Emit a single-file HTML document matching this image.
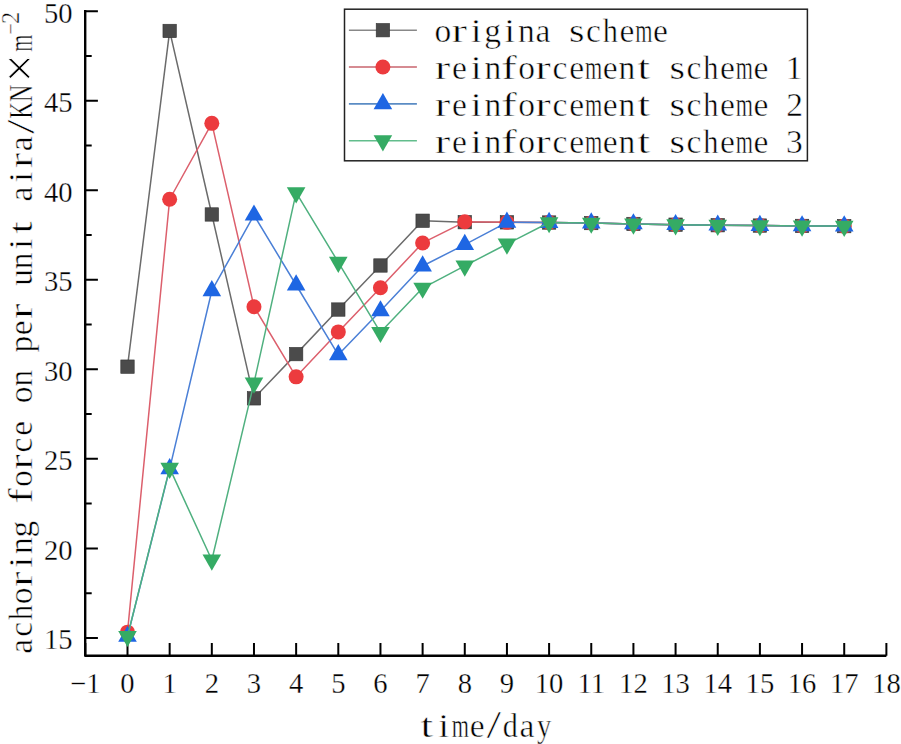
<!DOCTYPE html>
<html><head><meta charset="utf-8"><style>
html,body{margin:0;padding:0;background:#fff;}
svg{display:block;}
text{stroke:#fff;stroke-width:0.5px;}
.tl text{stroke-width:0.3px;}

</style></head><body>
<svg width="901" height="744" viewBox="0 0 901 744">
<rect width="901" height="744" fill="#fff"/>
<path d="M85.2 10.1 L85.2 655.7 L886.38 655.7" fill="none" stroke="#000" stroke-width="2.4" stroke-linejoin="round"/>
<path d="M85.34 655.7 V642.9 M127.50 655.7 V642.9 M169.66 655.7 V642.9 M211.82 655.7 V642.9 M253.98 655.7 V642.9 M296.14 655.7 V642.9 M338.30 655.7 V642.9 M380.46 655.7 V642.9 M422.62 655.7 V642.9 M464.78 655.7 V642.9 M506.94 655.7 V642.9 M549.10 655.7 V642.9 M591.26 655.7 V642.9 M633.42 655.7 V642.9 M675.58 655.7 V642.9 M717.74 655.7 V642.9 M759.90 655.7 V642.9 M802.06 655.7 V642.9 M844.22 655.7 V642.9 M886.38 655.7 V642.9 M85.2 637.90 H97.9 M85.2 593.14 H91.7 M85.2 548.38 H97.9 M85.2 503.62 H91.7 M85.2 458.86 H97.9 M85.2 414.10 H91.7 M85.2 369.34 H97.9 M85.2 324.58 H91.7 M85.2 279.82 H97.9 M85.2 235.06 H91.7 M85.2 190.30 H97.9 M85.2 145.54 H91.7 M85.2 100.78 H97.9 M85.2 56.02 H91.7 M85.2 11.26 H97.9" stroke="#000" stroke-width="2" fill="none"/>
<g class="tl" text-anchor="middle" font-family='"Liberation Serif", serif' font-size="28.6" fill="#000"><text x="85.34" y="692.5" text-anchor="middle">−1</text>
<text x="127.50" y="692.5" text-anchor="middle">0</text>
<text x="169.66" y="692.5" text-anchor="middle">1</text>
<text x="211.82" y="692.5" text-anchor="middle">2</text>
<text x="253.98" y="692.5" text-anchor="middle">3</text>
<text x="296.14" y="692.5" text-anchor="middle">4</text>
<text x="338.30" y="692.5" text-anchor="middle">5</text>
<text x="380.46" y="692.5" text-anchor="middle">6</text>
<text x="422.62" y="692.5" text-anchor="middle">7</text>
<text x="464.78" y="692.5" text-anchor="middle">8</text>
<text x="506.94" y="692.5" text-anchor="middle">9</text>
<text x="549.10" y="692.5" text-anchor="middle">10</text>
<text x="591.26" y="692.5" text-anchor="middle">11</text>
<text x="633.42" y="692.5" text-anchor="middle">12</text>
<text x="675.58" y="692.5" text-anchor="middle">13</text>
<text x="717.74" y="692.5" text-anchor="middle">14</text>
<text x="759.90" y="692.5" text-anchor="middle">15</text>
<text x="802.06" y="692.5" text-anchor="middle">16</text>
<text x="844.22" y="692.5" text-anchor="middle">17</text>
<text x="886.38" y="692.5" text-anchor="middle">18</text>
<text x="72.6" y="649.40" text-anchor="end">15</text>
<text x="72.6" y="559.88" text-anchor="end">20</text>
<text x="72.6" y="470.36" text-anchor="end">25</text>
<text x="72.6" y="380.84" text-anchor="end">30</text>
<text x="72.6" y="291.32" text-anchor="end">35</text>
<text x="72.6" y="201.80" text-anchor="end">40</text>
<text x="72.6" y="112.28" text-anchor="end">45</text>
<text x="72.6" y="22.76" text-anchor="end">50</text></g>
<polyline points="127.50,366.65 169.66,30.95 211.82,214.47 253.98,398.34 296.14,354.12 338.30,309.54 380.46,265.50 422.62,220.74 464.78,222.17 506.94,222.35 549.10,222.53 591.26,223.06 633.42,223.96 675.58,224.68 717.74,225.21 759.90,225.57 802.06,225.93 844.22,226.11" fill="none" stroke="#6b6b6b" stroke-width="1.5" stroke-linejoin="round"/>
<rect x="120.80" y="359.95" width="13.4" height="13.4" fill="#4b4b4b" stroke="#333" stroke-width="0.6"/>
<rect x="162.96" y="24.25" width="13.4" height="13.4" fill="#4b4b4b" stroke="#333" stroke-width="0.6"/>
<rect x="205.12" y="207.77" width="13.4" height="13.4" fill="#4b4b4b" stroke="#333" stroke-width="0.6"/>
<rect x="247.28" y="391.64" width="13.4" height="13.4" fill="#4b4b4b" stroke="#333" stroke-width="0.6"/>
<rect x="289.44" y="347.42" width="13.4" height="13.4" fill="#4b4b4b" stroke="#333" stroke-width="0.6"/>
<rect x="331.60" y="302.84" width="13.4" height="13.4" fill="#4b4b4b" stroke="#333" stroke-width="0.6"/>
<rect x="373.76" y="258.80" width="13.4" height="13.4" fill="#4b4b4b" stroke="#333" stroke-width="0.6"/>
<rect x="415.92" y="214.04" width="13.4" height="13.4" fill="#4b4b4b" stroke="#333" stroke-width="0.6"/>
<rect x="458.08" y="215.47" width="13.4" height="13.4" fill="#4b4b4b" stroke="#333" stroke-width="0.6"/>
<rect x="500.24" y="215.65" width="13.4" height="13.4" fill="#4b4b4b" stroke="#333" stroke-width="0.6"/>
<rect x="542.40" y="215.83" width="13.4" height="13.4" fill="#4b4b4b" stroke="#333" stroke-width="0.6"/>
<rect x="584.56" y="216.36" width="13.4" height="13.4" fill="#4b4b4b" stroke="#333" stroke-width="0.6"/>
<rect x="626.72" y="217.26" width="13.4" height="13.4" fill="#4b4b4b" stroke="#333" stroke-width="0.6"/>
<rect x="668.88" y="217.98" width="13.4" height="13.4" fill="#4b4b4b" stroke="#333" stroke-width="0.6"/>
<rect x="711.04" y="218.51" width="13.4" height="13.4" fill="#4b4b4b" stroke="#333" stroke-width="0.6"/>
<rect x="753.20" y="218.87" width="13.4" height="13.4" fill="#4b4b4b" stroke="#333" stroke-width="0.6"/>
<rect x="795.36" y="219.23" width="13.4" height="13.4" fill="#4b4b4b" stroke="#333" stroke-width="0.6"/>
<rect x="837.52" y="219.41" width="13.4" height="13.4" fill="#4b4b4b" stroke="#333" stroke-width="0.6"/>
<polyline points="127.50,632.17 169.66,199.25 211.82,123.34 253.98,306.68 296.14,376.86 338.30,331.92 380.46,287.70 422.62,242.94 464.78,221.81 506.94,222.35 549.10,222.53 591.26,223.06 633.42,223.96 675.58,224.68 717.74,225.21 759.90,225.57 802.06,225.93 844.22,226.11" fill="none" stroke="#dc5f6c" stroke-width="1.5" stroke-linejoin="round"/>
<circle cx="127.50" cy="632.17" r="7.5" fill="#ec3b3e"/>
<circle cx="169.66" cy="199.25" r="7.5" fill="#ec3b3e"/>
<circle cx="211.82" cy="123.34" r="7.5" fill="#ec3b3e"/>
<circle cx="253.98" cy="306.68" r="7.5" fill="#ec3b3e"/>
<circle cx="296.14" cy="376.86" r="7.5" fill="#ec3b3e"/>
<circle cx="338.30" cy="331.92" r="7.5" fill="#ec3b3e"/>
<circle cx="380.46" cy="287.70" r="7.5" fill="#ec3b3e"/>
<circle cx="422.62" cy="242.94" r="7.5" fill="#ec3b3e"/>
<circle cx="464.78" cy="221.81" r="7.5" fill="#ec3b3e"/>
<circle cx="506.94" cy="222.35" r="7.5" fill="#ec3b3e"/>
<circle cx="549.10" cy="222.53" r="7.5" fill="#ec3b3e"/>
<circle cx="591.26" cy="223.06" r="7.5" fill="#ec3b3e"/>
<circle cx="633.42" cy="223.96" r="7.5" fill="#ec3b3e"/>
<circle cx="675.58" cy="224.68" r="7.5" fill="#ec3b3e"/>
<circle cx="717.74" cy="225.21" r="7.5" fill="#ec3b3e"/>
<circle cx="759.90" cy="225.57" r="7.5" fill="#ec3b3e"/>
<circle cx="802.06" cy="225.93" r="7.5" fill="#ec3b3e"/>
<circle cx="844.22" cy="226.11" r="7.5" fill="#ec3b3e"/>
<polyline points="127.50,636.47 169.66,468.89 211.82,290.74 253.98,215.19 296.14,285.01 338.30,354.84 380.46,310.97 422.62,266.03 464.78,244.55 506.94,222.35 549.10,222.53 591.26,223.06 633.42,223.96 675.58,224.68 717.74,225.21 759.90,225.57 802.06,225.93 844.22,226.11" fill="none" stroke="#4a7fd6" stroke-width="1.5" stroke-linejoin="round"/>
<path d="M127.50 625.67L136.80 641.87L118.20 641.87Z" fill="#1e66e3"/>
<path d="M169.66 458.09L178.96 474.29L160.36 474.29Z" fill="#1e66e3"/>
<path d="M211.82 279.94L221.12 296.14L202.52 296.14Z" fill="#1e66e3"/>
<path d="M253.98 204.39L263.28 220.59L244.68 220.59Z" fill="#1e66e3"/>
<path d="M296.14 274.21L305.44 290.41L286.84 290.41Z" fill="#1e66e3"/>
<path d="M338.30 344.04L347.60 360.24L329.00 360.24Z" fill="#1e66e3"/>
<path d="M380.46 300.17L389.76 316.37L371.16 316.37Z" fill="#1e66e3"/>
<path d="M422.62 255.23L431.92 271.43L413.32 271.43Z" fill="#1e66e3"/>
<path d="M464.78 233.75L474.08 249.95L455.48 249.95Z" fill="#1e66e3"/>
<path d="M506.94 211.55L516.24 227.75L497.64 227.75Z" fill="#1e66e3"/>
<path d="M549.10 211.73L558.40 227.93L539.80 227.93Z" fill="#1e66e3"/>
<path d="M591.26 212.26L600.56 228.46L581.96 228.46Z" fill="#1e66e3"/>
<path d="M633.42 213.16L642.72 229.36L624.12 229.36Z" fill="#1e66e3"/>
<path d="M675.58 213.88L684.88 230.08L666.28 230.08Z" fill="#1e66e3"/>
<path d="M717.74 214.41L727.04 230.61L708.44 230.61Z" fill="#1e66e3"/>
<path d="M759.90 214.77L769.20 230.97L750.60 230.97Z" fill="#1e66e3"/>
<path d="M802.06 215.13L811.36 231.33L792.76 231.33Z" fill="#1e66e3"/>
<path d="M844.22 215.31L853.52 231.51L834.92 231.51Z" fill="#1e66e3"/>
<polyline points="127.50,636.29 169.66,468.17 211.82,560.02 253.98,382.95 296.14,192.63 338.30,262.27 380.46,332.28 422.62,288.06 464.78,265.85 506.94,244.01 549.10,222.53 591.26,223.06 633.42,223.96 675.58,224.68 717.74,225.21 759.90,225.57 802.06,225.93 844.22,226.11" fill="none" stroke="#4fb07f" stroke-width="1.5" stroke-linejoin="round"/>
<path d="M118.20 630.89L136.80 630.89L127.50 647.09Z" fill="#35ab64"/>
<path d="M160.36 462.77L178.96 462.77L169.66 478.97Z" fill="#35ab64"/>
<path d="M202.52 554.62L221.12 554.62L211.82 570.82Z" fill="#35ab64"/>
<path d="M244.68 377.55L263.28 377.55L253.98 393.75Z" fill="#35ab64"/>
<path d="M286.84 187.23L305.44 187.23L296.14 203.43Z" fill="#35ab64"/>
<path d="M329.00 256.87L347.60 256.87L338.30 273.07Z" fill="#35ab64"/>
<path d="M371.16 326.88L389.76 326.88L380.46 343.08Z" fill="#35ab64"/>
<path d="M413.32 282.66L431.92 282.66L422.62 298.86Z" fill="#35ab64"/>
<path d="M455.48 260.45L474.08 260.45L464.78 276.65Z" fill="#35ab64"/>
<path d="M497.64 238.61L516.24 238.61L506.94 254.81Z" fill="#35ab64"/>
<path d="M539.80 217.13L558.40 217.13L549.10 233.33Z" fill="#35ab64"/>
<path d="M581.96 217.66L600.56 217.66L591.26 233.86Z" fill="#35ab64"/>
<path d="M624.12 218.56L642.72 218.56L633.42 234.76Z" fill="#35ab64"/>
<path d="M666.28 219.28L684.88 219.28L675.58 235.48Z" fill="#35ab64"/>
<path d="M708.44 219.81L727.04 219.81L717.74 236.01Z" fill="#35ab64"/>
<path d="M750.60 220.17L769.20 220.17L759.90 236.37Z" fill="#35ab64"/>
<path d="M792.76 220.53L811.36 220.53L802.06 236.73Z" fill="#35ab64"/>
<path d="M834.92 220.71L853.52 220.71L844.22 236.91Z" fill="#35ab64"/>
<g text-anchor="middle" font-family='"Liberation Serif", serif' font-size="33.5" fill="#000"><rect x="344.5" y="9.2" width="462.9" height="151.6" fill="#fff" stroke="#222" stroke-width="1.5"/>
<line x1="348.9" y1="30.20" x2="416.9" y2="30.20" stroke="#888" stroke-width="1.6"/>
<rect x="376.20" y="23.50" width="13.4" height="13.4" fill="#4b4b4b" stroke="#333" stroke-width="0.6"/>
<text x="442.80" y="42.20">o</text>
<text transform="translate(459.29,42.20) scale(1.393,1.000)">r</text>
<text transform="translate(476.26,42.20) scale(1.167,1.000)">i</text>
<text x="492.65" y="42.20">g</text>
<text transform="translate(509.76,42.20) scale(1.167,1.000)">i</text>
<text x="526.42" y="42.20">n</text>
<text x="542.94" y="42.20">a</text>
<text transform="translate(576.70,42.20) scale(1.186,1.000)">s</text>
<text x="593.43" y="42.20">c</text>
<text transform="translate(610.35,42.20) scale(0.907,1.000)">h</text>
<text x="626.98" y="42.20">e</text>
<text transform="translate(643.74,42.20) scale(0.660,1.000)">m</text>
<text x="660.48" y="42.20">e</text>
<line x1="348.9" y1="67.05" x2="416.9" y2="67.05" stroke="#c8646e" stroke-width="1.6"/>
<circle cx="382.90" cy="67.05" r="7.5" fill="#ec3b3e"/>
<text transform="translate(442.54,78.97) scale(1.393,1.000)">r</text>
<text x="459.48" y="78.97">e</text>
<text transform="translate(476.26,78.97) scale(1.167,1.000)">i</text>
<text x="492.92" y="78.97">n</text>
<text transform="translate(509.08,78.97) scale(1.393,1.000)">f</text>
<text x="526.55" y="78.97">o</text>
<text transform="translate(543.04,78.97) scale(1.393,1.000)">r</text>
<text x="559.93" y="78.97">c</text>
<text x="576.73" y="78.97">e</text>
<text transform="translate(593.49,78.97) scale(0.660,1.000)">m</text>
<text x="610.23" y="78.97">e</text>
<text x="626.92" y="78.97">n</text>
<text transform="translate(643.71,78.97) scale(1.355,1.000)">t</text>
<text transform="translate(677.20,78.97) scale(1.186,1.000)">s</text>
<text x="693.93" y="78.97">c</text>
<text transform="translate(710.85,78.97) scale(0.907,1.000)">h</text>
<text x="727.48" y="78.97">e</text>
<text transform="translate(744.24,78.97) scale(0.660,1.000)">m</text>
<text x="760.98" y="78.97">e</text>
<text x="794.08" y="78.97">1</text>
<line x1="348.9" y1="103.90" x2="416.9" y2="103.90" stroke="#5b8cc4" stroke-width="1.6"/>
<path d="M382.90 93.10L392.20 109.30L373.60 109.30Z" fill="#1e66e3"/>
<text transform="translate(442.54,115.74) scale(1.393,1.000)">r</text>
<text x="459.48" y="115.74">e</text>
<text transform="translate(476.26,115.74) scale(1.167,1.000)">i</text>
<text x="492.92" y="115.74">n</text>
<text transform="translate(509.08,115.74) scale(1.393,1.000)">f</text>
<text x="526.55" y="115.74">o</text>
<text transform="translate(543.04,115.74) scale(1.393,1.000)">r</text>
<text x="559.93" y="115.74">c</text>
<text x="576.73" y="115.74">e</text>
<text transform="translate(593.49,115.74) scale(0.660,1.000)">m</text>
<text x="610.23" y="115.74">e</text>
<text x="626.92" y="115.74">n</text>
<text transform="translate(643.71,115.74) scale(1.355,1.000)">t</text>
<text transform="translate(677.20,115.74) scale(1.186,1.000)">s</text>
<text x="693.93" y="115.74">c</text>
<text transform="translate(710.85,115.74) scale(0.907,1.000)">h</text>
<text x="727.48" y="115.74">e</text>
<text transform="translate(744.24,115.74) scale(0.660,1.000)">m</text>
<text x="760.98" y="115.74">e</text>
<text x="794.74" y="115.74">2</text>
<line x1="348.9" y1="140.75" x2="416.9" y2="140.75" stroke="#62bd8c" stroke-width="1.6"/>
<path d="M373.60 135.35L392.20 135.35L382.90 151.55Z" fill="#35ab64"/>
<text transform="translate(442.54,152.51) scale(1.393,1.000)">r</text>
<text x="459.48" y="152.51">e</text>
<text transform="translate(476.26,152.51) scale(1.167,1.000)">i</text>
<text x="492.92" y="152.51">n</text>
<text transform="translate(509.08,152.51) scale(1.393,1.000)">f</text>
<text x="526.55" y="152.51">o</text>
<text transform="translate(543.04,152.51) scale(1.393,1.000)">r</text>
<text x="559.93" y="152.51">c</text>
<text x="576.73" y="152.51">e</text>
<text transform="translate(593.49,152.51) scale(0.660,1.000)">m</text>
<text x="610.23" y="152.51">e</text>
<text x="626.92" y="152.51">n</text>
<text transform="translate(643.71,152.51) scale(1.355,1.000)">t</text>
<text transform="translate(677.20,152.51) scale(1.186,1.000)">s</text>
<text x="693.93" y="152.51">c</text>
<text transform="translate(710.85,152.51) scale(0.907,1.000)">h</text>
<text x="727.48" y="152.51">e</text>
<text transform="translate(744.24,152.51) scale(0.660,1.000)">m</text>
<text x="760.98" y="152.51">e</text>
<text x="794.40" y="152.51">3</text></g>
<g text-anchor="middle" font-family='"Liberation Serif", serif' font-size="33.5" fill="#000"><text transform="translate(426.81,736.60) scale(1.355,1.000)">t</text>
<text transform="translate(443.61,736.60) scale(1.167,1.000)">i</text>
<text transform="translate(460.34,736.60) scale(0.660,1.000)">m</text>
<text x="477.08" y="736.60">e</text>
<text transform="translate(493.90,738.10) scale(1.570,1.200)">/</text>
<text transform="translate(510.29,736.60) scale(0.899,1.000)">d</text>
<text x="527.04" y="736.60">a</text>
<text transform="translate(544.03,736.60) scale(0.851,1.000)">y</text></g>
<g transform="rotate(-90)" text-anchor="middle" font-family='"Liberation Serif", serif' font-size="33.5" fill="#000"><text x="-646.36" y="32.20">a</text>
<text x="-629.37" y="32.20">c</text>
<text transform="translate(-612.45,32.20) scale(0.907,1.000)">h</text>
<text x="-595.75" y="32.20">o</text>
<text transform="translate(-579.26,32.20) scale(1.393,1.000)">r</text>
<text transform="translate(-562.29,32.20) scale(1.167,1.000)">i</text>
<text x="-545.63" y="32.20">n</text>
<text x="-529.15" y="32.20">g</text>
<text transform="translate(-495.97,32.20) scale(1.393,1.000)">f</text>
<text x="-478.50" y="32.20">o</text>
<text transform="translate(-462.01,32.20) scale(1.393,1.000)">r</text>
<text x="-445.12" y="32.20">c</text>
<text x="-428.32" y="32.20">e</text>
<text x="-394.75" y="32.20">o</text>
<text x="-378.13" y="32.20">n</text>
<text x="-344.12" y="32.20">p</text>
<text x="-327.82" y="32.20">e</text>
<text transform="translate(-311.26,32.20) scale(1.393,1.000)">r</text>
<text x="-277.43" y="32.20">u</text>
<text x="-260.88" y="32.20">n</text>
<text transform="translate(-244.04,32.20) scale(1.167,1.000)">i</text>
<text transform="translate(-227.34,32.20) scale(1.355,1.000)">t</text>
<text x="-194.11" y="32.20">a</text>
<text transform="translate(-177.04,32.20) scale(1.167,1.000)">i</text>
<text transform="translate(-160.51,32.20) scale(1.393,1.000)">r</text>
<text x="-143.86" y="32.20">a</text>
<text transform="translate(-126.75,33.70) scale(1.570,1.200)">/</text>
<text transform="translate(-110.22,32.20) scale(0.699,1.000)">K</text>
<text transform="translate(-93.32,32.20) scale(0.712,1.000)">N</text>
<text transform="translate(-68.15,37.40) scale(1.550,1.550)">×</text>
<text transform="translate(-43.06,32.20) scale(0.660,1.000)">m</text>
<text transform="translate(-28.90,18.5) scale(0.85,1)" text-anchor="middle" font-size="24.6">−</text>
<text x="-17.75" y="18.5" text-anchor="middle" font-size="24.6">2</text></g>
</svg>
</body></html>
